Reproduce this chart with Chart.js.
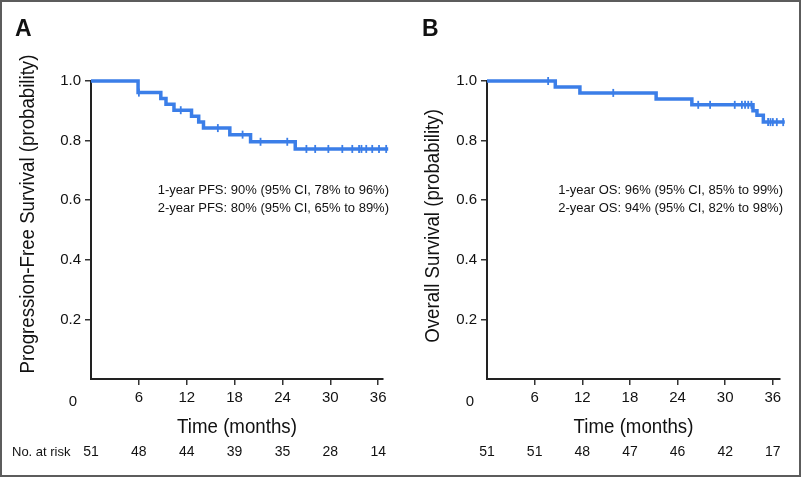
<!DOCTYPE html>
<html>
<head>
<meta charset="utf-8">
<script src="https://cdn.jsdelivr.net/npm/chart.js@4.4.0/dist/chart.umd.min.js"></script>
<style>
html, body { margin: 0; padding: 0; background: #fff; }
#wrap { position: relative; width: 801px; height: 477px; overflow: hidden; background: #fff; }
#wrap canvas { position: absolute; top: 0; }
#frame { position: absolute; left: 0; top: 0; width: 801px; height: 477px; box-sizing: border-box; border: 2px solid #5c5c5c; pointer-events: none; }
</style>
</head>
<body>
<div id="wrap">
  <canvas id="pfs" width="400" height="477" style="left:0"></canvas>
  <canvas id="os" width="401" height="477" style="left:400px"></canvas>
  <div id="frame"></div>
</div>
<script>
// axis ticks
const xTicks = [0, 6, 12, 18, 24, 30, 36];
const yTicks = [0, 0.2, 0.4, 0.6, 0.8, 1.0];

// panel A - progression-free survival (step times in months, survival after step)
const pfsTimes = [0, 5.9, 8.75, 9.4, 10.4, 12.6, 13.5, 14.1, 17.4, 20.0, 25.6, 37.25];
const pfsSurv = [1.0, 0.961, 0.941, 0.922, 0.902, 0.882, 0.862, 0.842, 0.82, 0.796, 0.772, 0.772];
const pfsCensor = [6.0, 11.25, 15.9, 19.0, 21.25, 24.6, 27.0, 28.1, 29.75, 31.5, 32.75, 33.6, 33.9, 34.5, 35.25, 36.1, 37.0];
const pfsRisk = [51, 48, 44, 39, 35, 28, 14];

// panel B - overall survival
const osTimes = [0, 8.6, 11.7, 21.3, 25.8, 33.5, 34.0, 34.8, 37.5];
const osSurv = [1.0, 0.98, 0.96, 0.94, 0.92, 0.90, 0.885, 0.862, 0.862];
const osCensor = [7.7, 15.9, 26.6, 28.1, 31.2, 32.1, 32.5, 32.9, 33.3, 35.4, 35.7, 36.0, 36.5, 37.3];
const osRisk = [51, 51, 48, 47, 46, 42, 17];

const blue = 'rgb(59,126,232)';
const sans = "'Liberation Sans', Arial, sans-serif";

function survAt(times, surv, t) {
    let s = surv[0];
    for (let i = 0; i < times.length; i++) {
        if (times[i] <= t) s = surv[i];
    }
    return s;
}

// condensed-looking title: regular face squeezed horizontally
function narrowText(ctx, text, x, y, rot) {
    ctx.save();
    ctx.translate(x, y);
    if (rot) ctx.rotate(rot);
    ctx.scale(0.89, 1);
    ctx.fillText(text, 0, 0);
    ctx.restore();
}

function makePanel(id, p) {
    const textPlugin = {
        id: 'texts',
        afterDraw(chart) {
            const ctx = chart.ctx;
            const xs = chart.scales.x;
            const area = chart.chartArea;
            ctx.save();
            ctx.fillStyle = '#111';
            ctx.textBaseline = 'middle';

            // panel letter
            ctx.font = "bold 23px " + sans;
            ctx.textAlign = 'left';
            ctx.fillText(p.letter, p.letterX, 30);

            // axis titles
            ctx.font = "21px " + sans;
            ctx.textAlign = 'center';
            narrowText(ctx, 'Time (months)', (area.left + area.right) / 2, 427, 0);
            narrowText(ctx, p.yTitle, p.yTitleX, p.yTitleY, -Math.PI / 2);

            // shared origin label
            ctx.font = "15px " + sans;
            ctx.fillText('0', p.zeroX, 402);

            // estimates
            ctx.font = "13px " + sans;
            ctx.textAlign = 'right';
            ctx.fillText(p.notes[0], p.noteX, 190);
            ctx.fillText(p.notes[1], p.noteX, 208);

            // number at risk
            if (p.riskLabel) {
                ctx.textAlign = 'left';
                ctx.fillText(p.riskLabel, 12, 452);
            }
            ctx.font = "14px " + sans;
            ctx.textAlign = 'center';
            xTicks.forEach((t, i) => {
                ctx.fillText(String(p.risk[i]), xs.getPixelForValue(t), 452);
            });
            ctx.restore();
        }
    };

    return new Chart(document.getElementById(id), {
        type: 'scatter',
        data: {
            datasets: [{
                data: p.times.map((t, i) => ({ x: t, y: p.surv[i] })),
                showLine: true,
                stepped: 'before',
                borderColor: blue,
                borderWidth: 3.5,
                pointRadius: 0,
                fill: false,
                clip: false
            }, {
                data: p.censor.map(t => ({ x: t, y: survAt(p.times, p.surv, t) })),
                pointStyle: 'line',
                pointRotation: 90,
                pointRadius: 4,
                pointBorderWidth: 1.8,
                pointBorderColor: blue,
                pointBackgroundColor: blue,
                clip: false
            }]
        },
        options: {
            responsive: false,
            animation: false,
            layout: { padding: { left: 0, top: 81, right: p.padRight, bottom: 0 } },
            plugins: { legend: { display: false }, tooltip: { enabled: false } },
            scales: {
                x: {
                    type: 'linear',
                    min: 0,
                    max: p.xMax,
                    afterFit: s => { s.height = 98; },
                    afterBuildTicks: s => { s.ticks = xTicks.map(v => ({ value: v })); },
                    ticks: {
                        callback: v => (v === 0 ? '' : v),
                        color: '#111',
                        font: { family: sans, size: 15 },
                        padding: 4,
                        maxRotation: 0,
                        autoSkip: false
                    },
                    grid: {
                        drawOnChartArea: false,
                        tickLength: 6,
                        lineWidth: 1.5,
                        color: c => (c.tick && c.tick.value === 0 ? 'rgba(0,0,0,0)' : '#333')
                    },
                    border: { color: '#222', width: 2 }
                },
                y: {
                    min: 0,
                    max: 1,
                    afterFit: s => { s.width = p.yAxisW; },
                    afterBuildTicks: s => { s.ticks = yTicks.map(v => ({ value: v })); },
                    ticks: {
                        callback: v => (v === 0 ? '' : v.toFixed(1)),
                        color: '#111',
                        font: { family: sans, size: 15 },
                        padding: 4
                    },
                    grid: {
                        drawOnChartArea: false,
                        tickLength: 6,
                        lineWidth: 1.5,
                        color: c => (c.tick && c.tick.value === 0 ? 'rgba(0,0,0,0)' : '#333')
                    },
                    border: { color: '#222', width: 2 }
                }
            }
        },
        plugins: [textPlugin]
    });
}

makePanel('pfs', {
    times: pfsTimes, surv: pfsSurv, censor: pfsCensor, risk: pfsRisk,
    xMax: 36.6, yAxisW: 91, padRight: 17,
    letter: 'A', letterX: 15,
    yTitle: 'Progression-Free Survival (probability)', yTitleX: 28, yTitleY: 214,
    zeroX: 73,
    notes: ['1-year PFS: 90% (95% CI, 78% to 96%)', '2-year PFS: 80% (95% CI, 65% to 89%)'],
    noteX: 389,
    riskLabel: 'No. at risk'
});

makePanel('os', {
    times: osTimes, surv: osSurv, censor: osCensor, risk: osRisk,
    xMax: 36.9, yAxisW: 87, padRight: 21,
    letter: 'B', letterX: 22,
    yTitle: 'Overall Survival (probability)', yTitleX: 33, yTitleY: 226,
    zeroX: 70,
    notes: ['1-year OS: 96% (95% CI, 85% to 99%)', '2-year OS: 94% (95% CI, 82% to 98%)'],
    noteX: 383,
    riskLabel: null
});
</script>
</body>
</html>
